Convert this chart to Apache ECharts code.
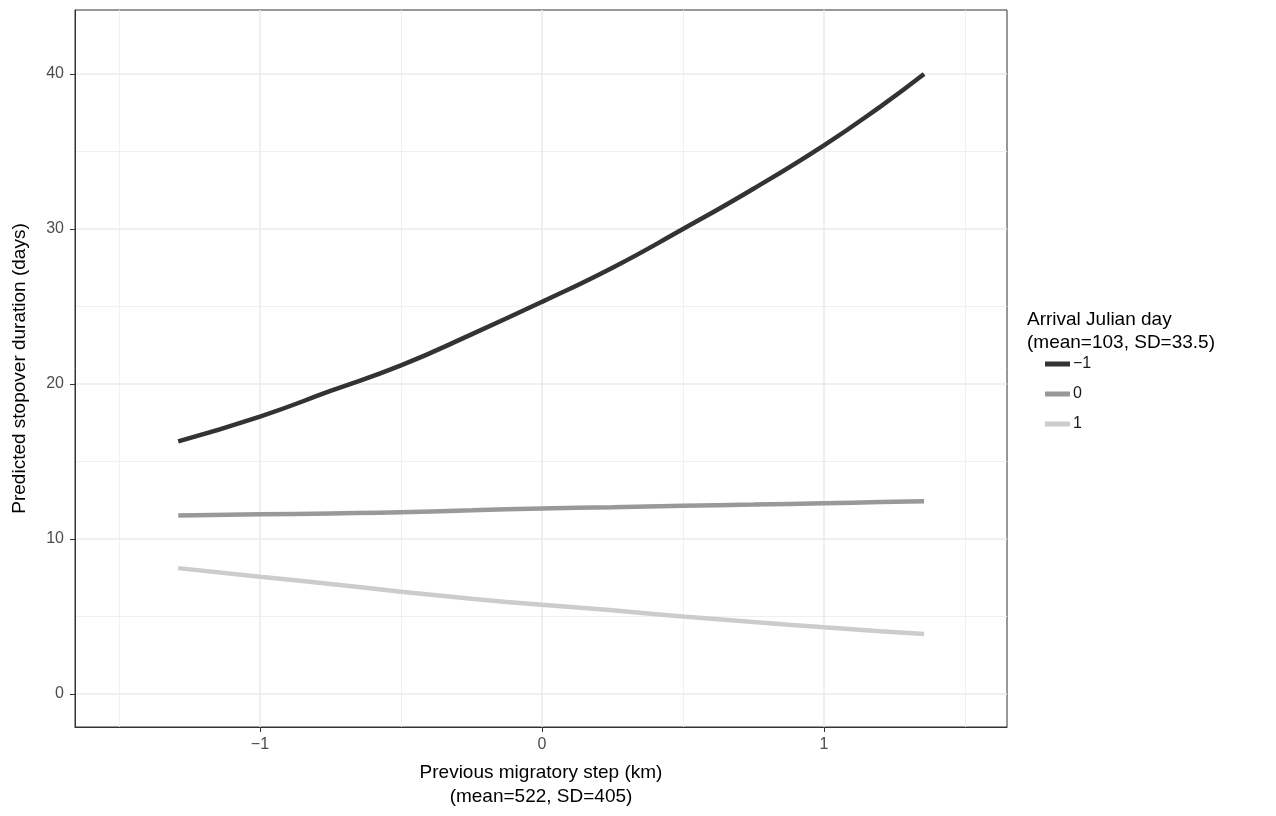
<!DOCTYPE html>
<html>
<head>
<meta charset="utf-8">
<script src="https://cdn.jsdelivr.net/npm/echarts@6/dist/echarts.min.js"></script>
<style>
  html, body { margin: 0; padding: 0; background: #fff; }
  #main { width: 1276px; height: 816px; }
</style>
</head>
<body>
<div id="main"></div>
<script>
// x positions (standardised previous migratory step)
var stepValues = [-1.29, -1.0, -0.75, -0.5, -0.25, 0.0, 0.25, 0.5, 0.75, 1.0, 1.2, 1.355];
// predicted stopover duration per arrival-day level
var durationLow = [16.3, 17.9, 19.55, 21.2, 23.2, 25.3, 27.5, 30.0, 32.6, 35.4, 37.9, 40.0];          // arrival day = -1
var durationMid = [11.52, 11.59, 11.65, 11.72, 11.85, 11.97, 12.05, 12.14, 12.22, 12.31, 12.38, 12.43]; // arrival day = 0
var durationHigh = [8.12, 7.57, 7.1, 6.6, 6.15, 5.75, 5.4, 5.0, 4.65, 4.3, 4.05, 3.87];              // arrival day = 1
var seriesNames = ['\u22121', '0', '1'];
var seriesColors = ['#333333', '#999999', '#cccccc'];
var xTicks = [-1, 0, 1];
var xMinorTicks = [-1.5, -0.5, 0.5, 1.5];
var yTicks = [0, 10, 20, 30, 40];
var yMinorTicks = [5, 15, 25, 35];

var font = 'Liberation Sans, Arial, sans-serif';
var myChart = echarts.init(document.getElementById('main'));

function pairs(ys) {
  var out = [];
  for (var i = 0; i < stepValues.length; i++) out.push([stepValues[i], ys[i]]);
  return out;
}

var allValues = [durationLow, durationMid, durationHigh];
var seriesData = [];
for (var i = 0; i < allValues.length; i++) {
  seriesData.push({
    name: seriesNames[i],
    type: 'line',
    xAxisIndex: 0,
    yAxisIndex: 0,
    data: pairs(allValues[i]),
    smooth: 0.5,
    showSymbol: false,
    color: seriesColors[i],
    lineStyle: { width: 4.5, color: seriesColors[i] },
    emphasis: { disabled: true }
  });
}

var xRange = { min: -1.656, max: 1.649 };
var yRange = { min: -2.13, max: 44.13 };

var option = {
  backgroundColor: '#ffffff',
  animation: false,
  textStyle: { fontFamily: font },
  grid: {
    left: 75, top: 10, width: 932, height: 717,
    outerBoundsMode: 'none',
    containLabel: false,
    show: true, borderColor: '#333333', borderWidth: 1, backgroundColor: 'transparent'
  },
  title: {
    text: 'Arrival Julian day\n(mean=103, SD=33.5)',
    left: 1022, top: 303,
    textStyle: { fontSize: 19, fontWeight: 'normal', color: '#000', lineHeight: 23, fontFamily: font }
  },
  legend: {
    orient: 'vertical',
    left: 1040, top: 351,
    icon: 'rect',
    itemWidth: 25, itemHeight: 5,
    itemGap: 14,
    data: seriesNames,
    textStyle: { fontSize: 16, color: '#1a1a1a', fontFamily: font, padding: [0, 0, 0, -2] }
  },
  xAxis: [{
    type: 'value',
    min: xRange.min, max: xRange.max,
    name: 'Previous migratory step (km)\n(mean=522, SD=405)',
    nameLocation: 'middle',
    nameGap: 34,
    nameTextStyle: { fontSize: 19, color: '#000', lineHeight: 24, fontFamily: font, verticalAlign: 'top' },
    axisLine: { show: true, onZero: false, lineStyle: { color: '#333333', width: 1 } },
    axisTick: { show: true, length: 5, customValues: xTicks, lineStyle: { color: '#333333', width: 1 } },
    axisLabel: {
      customValues: xTicks, margin: 10, fontSize: 16, color: '#4d4d4d',
      formatter: function (v) { return v < 0 ? '\u2212' + Math.abs(v) : String(v); }
    },
    splitLine: { show: true, lineStyle: { color: '#ebebeb', width: 1.6 } }
  }, {
    type: 'value',
    gridIndex: 0,
    position: 'bottom',
    min: xRange.min, max: xRange.max,
    axisLine: { show: false, onZero: false },
    axisTick: { show: false, customValues: xMinorTicks },
    axisLabel: { show: false, customValues: xMinorTicks },
    splitLine: { show: true, lineStyle: { color: '#f0f0f0', width: 1 } }
  }],
  yAxis: [{
    type: 'value',
    min: yRange.min, max: yRange.max,
    name: 'Predicted stopover duration (days)',
    nameLocation: 'middle',
    nameGap: 46,
    nameRotate: 90,
    nameTextStyle: { fontSize: 19, color: '#000', fontFamily: font },
    axisLine: { show: true, onZero: false, lineStyle: { color: '#333333', width: 1 } },
    axisTick: { show: true, length: 5, customValues: yTicks, lineStyle: { color: '#333333', width: 1 } },
    axisLabel: { customValues: yTicks, margin: 11, fontSize: 16, color: '#4d4d4d' },
    splitLine: { show: true, lineStyle: { color: '#ebebeb', width: 1.6 } }
  }, {
    type: 'value',
    gridIndex: 0,
    position: 'left',
    min: yRange.min, max: yRange.max,
    axisLine: { show: false, onZero: false },
    axisTick: { show: false, customValues: yMinorTicks },
    axisLabel: { show: false, customValues: yMinorTicks },
    splitLine: { show: true, lineStyle: { color: '#f0f0f0', width: 1 } }
  }],
  series: seriesData
};

myChart.setOption(option);
</script>
</body>
</html>
